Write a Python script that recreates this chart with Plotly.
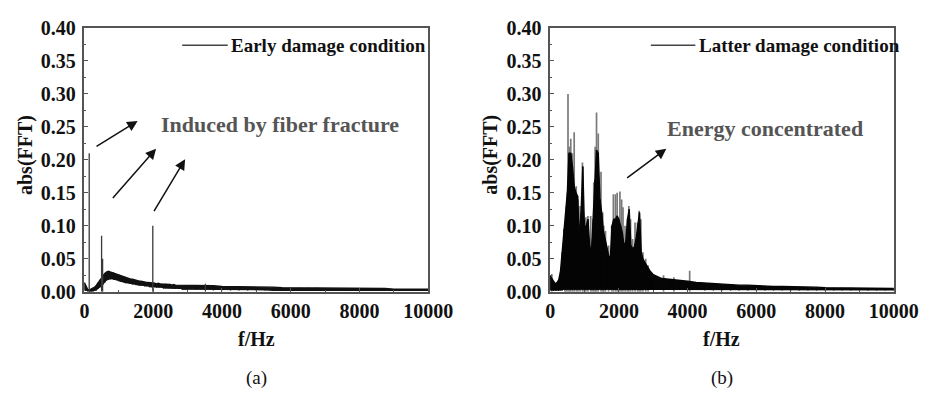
import plotly.graph_objects as go

# ---------------- data ----------------
# frequency grid (Hz): 50 Hz bins up to 3000, 250 Hz bins beyond
freq = list(range(0, 3000, 50)) + list(range(3000, 10001, 250))

# (a) Early damage condition: upper / lower edge of the dense band
hi_a = [0.014, 0.008, 0.003, 0.003, 0.004, 0.005, 0.007, 0.010, 0.014, 0.018,
        0.022, 0.026, 0.028, 0.030, 0.031, 0.030, 0.029, 0.029, 0.028, 0.027,
        0.026, 0.025, 0.024, 0.023, 0.022, 0.021, 0.020, 0.019, 0.019, 0.018,
        0.017, 0.017, 0.016, 0.016, 0.015, 0.015, 0.014, 0.014, 0.014, 0.013,
        0.013, 0.013, 0.012, 0.013, 0.012, 0.012, 0.011, 0.012, 0.011, 0.011,
        0.011, 0.010, 0.011, 0.010, 0.010, 0.010, 0.009, 0.010, 0.009, 0.009,
        0.010, 0.010, 0.009, 0.009, 0.008, 0.008, 0.008, 0.007, 0.007, 0.007,
        0.007, 0.006, 0.006, 0.006, 0.006, 0.006, 0.005, 0.005, 0.005, 0.005,
        0.005, 0.005, 0.005, 0.005, 0.004, 0.004, 0.004, 0.004, 0.004]
lo_a = [0.002, 0.001, 0.000, 0.000, 0.000, 0.000, 0.001, 0.002, 0.004, 0.006,
        0.008, 0.011, 0.014, 0.017, 0.018, 0.019, 0.019, 0.018, 0.018, 0.017,
        0.016, 0.015, 0.015, 0.014, 0.013, 0.013, 0.012, 0.012, 0.011, 0.011,
        0.010, 0.010, 0.009, 0.009, 0.009, 0.008, 0.008, 0.008, 0.007, 0.007,
        0.007, 0.007, 0.006, 0.006, 0.006, 0.006, 0.005, 0.005, 0.005, 0.005,
        0.005, 0.004, 0.004, 0.004, 0.004, 0.004, 0.004, 0.003, 0.003, 0.003,
        0.003, 0.003, 0.003, 0.002, 0.002, 0.002, 0.002, 0.002, 0.002, 0.002,
        0.001, 0.001, 0.001, 0.001, 0.001, 0.001, 0.001, 0.001, 0.001, 0.001,
        0.001, 0.001, 0.001, 0.001, 0.001, 0.001, 0.001, 0.001, 0.001]
# (a) isolated spectral lines
spike_f_a = [140, 500, 530, 1990, 3520]
spike_h_a = [0.210, 0.085, 0.050, 0.100, 0.012]

# (b) Latter damage condition: dense black body
hi_b = [0.024, 0.020, 0.016, 0.012, 0.014, 0.018, 0.030, 0.060, 0.095, 0.120,
        0.150, 0.210, 0.210, 0.190, 0.160, 0.150, 0.145, 0.080, 0.120, 0.190,
        0.095, 0.100, 0.110, 0.070, 0.058, 0.110, 0.170, 0.215, 0.210, 0.140,
        0.120, 0.092, 0.080, 0.067, 0.055, 0.050, 0.100, 0.110, 0.110, 0.115,
        0.110, 0.100, 0.090, 0.070, 0.075, 0.110, 0.125, 0.070, 0.065, 0.068,
        0.080, 0.100, 0.120, 0.060, 0.050, 0.045, 0.040, 0.035, 0.032, 0.029,
        0.026, 0.020, 0.019, 0.017, 0.016, 0.014, 0.013, 0.012, 0.011, 0.011,
        0.010, 0.010, 0.009, 0.009, 0.008, 0.008, 0.008, 0.007, 0.007, 0.007,
        0.006, 0.006, 0.006, 0.006, 0.005, 0.005, 0.005, 0.005, 0.005]
lo_b = [0.002, 0.002, 0.001, 0.001, 0.001, 0.001, 0.002, 0.002, 0.003, 0.003,
        0.003, 0.003, 0.003, 0.003, 0.003, 0.003, 0.003, 0.003, 0.003, 0.003,
        0.003, 0.003, 0.003, 0.003, 0.003, 0.003, 0.003, 0.003, 0.003, 0.003,
        0.003, 0.003, 0.003, 0.003, 0.003, 0.003, 0.003, 0.003, 0.003, 0.003,
        0.003, 0.003, 0.003, 0.003, 0.003, 0.003, 0.003, 0.003, 0.003, 0.003,
        0.003, 0.003, 0.003, 0.003, 0.003, 0.003, 0.003, 0.003, 0.003, 0.003,
        0.003, 0.003, 0.003, 0.003, 0.003, 0.003, 0.002, 0.002, 0.002, 0.002,
        0.002, 0.002, 0.002, 0.002, 0.002, 0.002, 0.002, 0.002, 0.002, 0.002,
        0.002, 0.002, 0.002, 0.002, 0.002, 0.002, 0.002, 0.002, 0.002]
# (b) grey peak lines rising above the black body
peak_f_b = [50, 430, 470, 520, 560, 600, 650, 700, 760, 810, 870, 940, 990,
            1040, 1100, 1180, 1220, 1270, 1310, 1350, 1400, 1480, 1530, 1560,
            1610, 1700, 1790, 1840, 1900, 1950, 2030, 2080, 2120, 2180, 2240,
            2290, 2340, 2400, 2470, 2540, 2590, 2640, 2700, 2780, 2850, 3300,
            3600, 4060]
peak_h_b = [0.027, 0.100, 0.130, 0.300, 0.220, 0.232, 0.210, 0.242, 0.160,
            0.140, 0.130, 0.196, 0.110, 0.113, 0.115, 0.115, 0.080, 0.166,
            0.220, 0.272, 0.240, 0.182, 0.120, 0.100, 0.092, 0.070, 0.100,
            0.148, 0.148, 0.150, 0.152, 0.140, 0.128, 0.100, 0.090, 0.130,
            0.110, 0.080, 0.105, 0.105, 0.123, 0.110, 0.060, 0.050, 0.040,
            0.025, 0.022, 0.032]

x_tick_vals = [0, 2000, 4000, 6000, 8000, 10000]
x_tick_text = ["0", "2000", "4000", "6000", "8000", "10000"]

legend_a = "Early damage condition"
legend_b = "Latter damage condition"
note_a = "Induced by fiber fracture"
note_b = "Energy concentrated"

# ---------------- helpers ----------------
def stems(fs, hs):
    xs, ys = [], []
    for f, h in zip(fs, hs):
        xs += [f, f, None]
        ys += [0, h, None]
    return xs, ys

def band_lines(fs, lo, hi):
    xs, ys = [], []
    for f, l, h in zip(fs, lo, hi):
        xs += [f, f, None]
        ys += [l, h, None]
    return xs, ys

SERIF = "Liberation Serif"
fig = go.Figure()

# ---- panel (a) ----
fig.add_trace(go.Scatter(x=freq, y=lo_a, mode="lines", line=dict(width=0, color="black"),
                         xaxis="x", yaxis="y", showlegend=False, hoverinfo="skip"))
fig.add_trace(go.Scatter(x=freq, y=hi_a, mode="lines", fill="tonexty", fillcolor="#111111",
                         line=dict(width=1.4, color="#111111"),
                         xaxis="x", yaxis="y", showlegend=False))
bx, by = band_lines(freq, lo_a, hi_a)
fig.add_trace(go.Scatter(x=bx, y=by, mode="lines", line=dict(width=1.2, color="#111111"),
                         xaxis="x", yaxis="y", showlegend=False, hoverinfo="skip"))
sx, sy = stems(spike_f_a, spike_h_a)
fig.add_trace(go.Scatter(x=sx, y=sy, mode="lines", line=dict(width=1.3, color="#3a3a3a"),
                         xaxis="x", yaxis="y", name=legend_a, showlegend=False))

# ---- panel (b) ----
px_, py_ = stems(peak_f_b, peak_h_b)
fig.add_trace(go.Scatter(x=px_, y=py_, mode="lines", line=dict(width=1.7, color="#7a7a7a"),
                         xaxis="x2", yaxis="y2", name=legend_b, showlegend=False))
fig.add_trace(go.Scatter(x=freq, y=lo_b, mode="lines", line=dict(width=0, color="black"),
                         xaxis="x2", yaxis="y2", showlegend=False, hoverinfo="skip"))
fig.add_trace(go.Scatter(x=freq, y=hi_b, mode="lines", fill="tonexty", fillcolor="#050505",
                         line=dict(width=1.4, color="#050505"),
                         xaxis="x2", yaxis="y2", showlegend=False))
bx, by = band_lines(freq, lo_b, hi_b)
fig.add_trace(go.Scatter(x=bx, y=by, mode="lines", line=dict(width=1.2, color="#050505"),
                         xaxis="x2", yaxis="y2", showlegend=False, hoverinfo="skip"))

# ---------------- layout ----------------
W, H = 945, 402
dom_y = [(H - 297) / H, (H - 18) / H]
dom_xa = [82 / W, 437 / W]
dom_xb = [563 / W, 918 / W]

tickfont = dict(family=SERIF, size=20, color="#111111", weight="bold")
common_x = dict(range=[0, 10000], tickvals=x_tick_vals, ticktext=x_tick_text,
                ticks="inside", ticklen=4, tickcolor="#555", tickwidth=1,
                minor=dict(dtick=1000, ticks="inside", ticklen=2, tickcolor="#555"),
                showline=True, mirror=True, linecolor="#555", linewidth=1.5,
                showgrid=False, zeroline=False, tickfont=tickfont, ticklabelstandoff=1)
common_y = dict(range=[0, 0.40], dtick=0.05, tickformat=".2f",
                ticks="inside", ticklen=4, tickcolor="#555", tickwidth=1,
                minor=dict(dtick=0.025, ticks="inside", ticklen=2, tickcolor="#555"),
                showline=True, mirror=True, linecolor="#555", linewidth=1.5,
                showgrid=False, zeroline=False, tickfont=tickfont, ticklabelstandoff=3)

fig.update_layout(
    width=W, height=H, margin=dict(l=0, r=0, t=0, b=0),
    paper_bgcolor="white", plot_bgcolor="white", showlegend=False,
    xaxis=dict(domain=dom_xa, anchor="y", **common_x),
    yaxis=dict(domain=dom_y, anchor="x", **common_y),
    xaxis2=dict(domain=dom_xb, anchor="y2", **common_x),
    yaxis2=dict(domain=dom_y, anchor="x2", **common_y),
)

anns = []
titlefont = dict(family=SERIF, size=20, color="#111111", weight="bold")
for cx, ycx, lbl in [((dom_xa[0] + dom_xa[1]) / 2, 21 / W, "(a)"),
                     ((dom_xb[0] + dom_xb[1]) / 2, 502 / W, "(b)")]:
    anns.append(dict(text="f/Hz", x=cx, y=(H - 347) / H, xref="paper", yref="paper",
                     showarrow=False, font=titlefont, xanchor="center", yanchor="middle"))
    anns.append(dict(text="abs(FFT)", x=ycx, y=(H - 152) / H, xref="paper", yref="paper",
                     showarrow=False, font=titlefont, textangle=-90,
                     xanchor="center", yanchor="middle"))
    anns.append(dict(text=lbl, x=cx, y=(H - 388) / H, xref="paper", yref="paper",
                     showarrow=False, font=dict(family=SERIF, size=19, color="#111111"),
                     xanchor="center", yanchor="middle"))

# legends (line sample + text) inside each panel
legfont = dict(family=SERIF, size=19, color="#111111", weight="bold")
shapes = []
for xr, yr, x0, x1, xt, txt in [("x domain", "y domain", 0.2845, 0.417, 0.4225, legend_a),
                                ("x2 domain", "y2 domain", 0.293, 0.4225, 0.431, legend_b)]:
    shapes.append(dict(type="line", xref=xr, yref=yr, x0=x0, x1=x1, y0=0.935, y1=0.935,
                       line=dict(color="#444", width=1.5)))
    anns.append(dict(text=txt, x=xt, y=0.935, xref=xr, yref=yr, showarrow=False,
                     font=legfont, xanchor="left", yanchor="middle", borderpad=0))

notefont = dict(family=SERIF, size=22, color="#555555", weight="bold")
anns.append(dict(text=note_a, x=5700, y=0.254, xref="x", yref="y", showarrow=False,
                 font=notefont, xanchor="center", yanchor="middle"))
anns.append(dict(text=note_b, x=6254, y=0.247, xref="x2", yref="y2", showarrow=False,
                 font=notefont, xanchor="center", yanchor="middle"))

arrow_style = dict(showarrow=True, arrowhead=2, arrowsize=1.4, arrowwidth=1.5,
                   arrowcolor="#111", text="")
for (hx, hy, tx, ty) in [(1549, 0.259, 310, 0.219), (2085, 0.217, 789, 0.140),
                         (2930, 0.201, 2000, 0.120)]:
    anns.append(dict(x=hx, y=hy, ax=tx, ay=ty, xref="x", yref="y", axref="x", ayref="y",
                     **arrow_style))
anns.append(dict(x=3380, y=0.217, ax=2197, ay=0.171, xref="x2", yref="y2",
                 axref="x2", ayref="y2", **arrow_style))

fig.update_layout(annotations=anns, shapes=shapes)
fig.write_html("out.html")
